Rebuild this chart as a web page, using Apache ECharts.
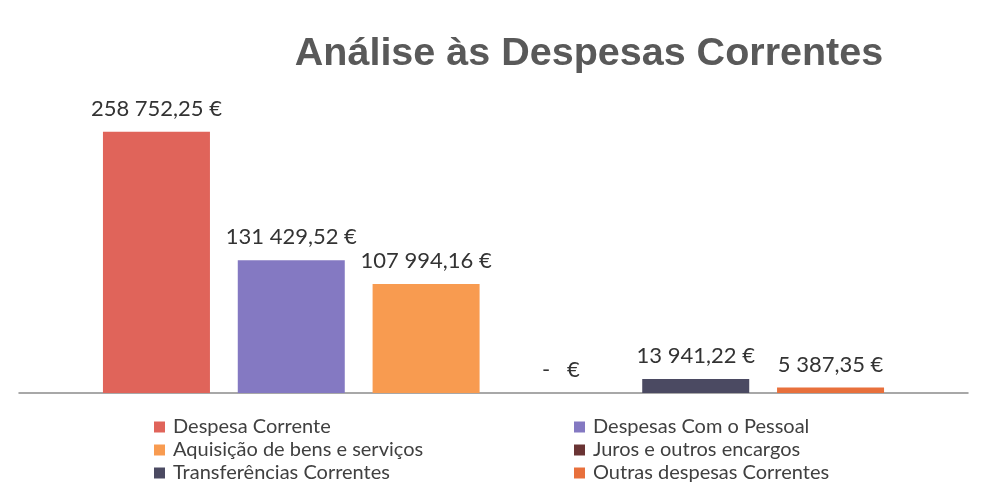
<!DOCTYPE html>
<html>
<head>
<meta charset="utf-8">
<style>
  html, body { margin: 0; padding: 0; background: #fff; }
  #chart { width: 998px; height: 486px; }
</style>
<script src="https://cdn.jsdelivr.net/npm/echarts@6/dist/echarts.min.js"></script>
</head>
<body>
<div id="chart"></div>
<script>
// data
const seriesNames = [
  'Despesa Corrente',
  'Despesas Com o Pessoal',
  'Aquisição de bens e serviços',
  'Juros e outros encargos',
  'Transferências Correntes',
  'Outras despesas Correntes'
]
const seriesValues = [258752.25, 131429.52, 107994.16, 0, 13941.22, 5387.35]
const seriesColors = ['#e0645a', '#8479c2', '#f89b50', '#6a3434', '#4b4a62', '#e8703c']
const categories = ['']

// 258752.25 -> "258 752,25 €", 0 -> "-   €"
function euro(v) {
  if (!v) return '-   €'
  const parts = v.toFixed(2).split('.')
  const int = parts[0].replace(/\B(?=(\d{3})+(?!\d))/g, ' ')
  return int + ',' + parts[1] + ' €'
}

const chart = echarts.init(document.getElementById('chart'))

const labelFont = 'Lato, "Open Sans", sans-serif'

function legendCol(names, left) {
  return {
    data: names,
    orient: 'vertical',
    left: left,
    top: 417,
    padding: 0,
    itemWidth: 11,
    itemHeight: 11,
    itemGap: 3,
    icon: 'rect',
    textStyle: {
      fontFamily: labelFont,
      fontSize: 20,
      lineHeight: 20,
      color: '#404040',
      padding: [0, 0, 0, 3]
    }
  }
}

chart.setOption({
  backgroundColor: '#fff',
  animation: false,
  title: {
    text: 'Análise às Despesas Correntes',
    left: 584,
    top: 29,
    textAlign: 'center',
    textStyle: {
      fontFamily: '"Liberation Sans", Arial, sans-serif',
      fontWeight: 'bold',
      fontSize: 39.5,
      color: '#595959'
    }
  },
  legend: [
    legendCol([seriesNames[0], seriesNames[2], seriesNames[4]], 154),
    legendCol([seriesNames[1], seriesNames[3], seriesNames[5]], 574)
  ],
  grid: {
    left: 19,
    right: 30,
    top: 90,
    bottom: 93
  },
  xAxis: {
    type: 'category',
    data: categories,
    axisTick: { show: false },
    axisLabel: { show: false },
    axisLine: { lineStyle: { color: '#8c8c8c', width: 1.5 } }
  },
  yAxis: {
    type: 'value',
    min: 0,
    max: 300000,
    show: false,
    splitLine: { show: false }
  },
  series: seriesNames.map(function(name, i) {
    return {
      name: name,
      type: 'bar',
      data: [seriesValues[i]],
      barWidth: 107,
      barGap: '26%',
      itemStyle: { color: seriesColors[i] },
      label: {
        show: true,
        position: 'top',
        distance: 12,
        formatter: function(p) { return euro(p.value) },
        fontFamily: labelFont,
        fontSize: 22,
        color: '#333'
      }
    }
  })
})
</script>
</body>
</html>
